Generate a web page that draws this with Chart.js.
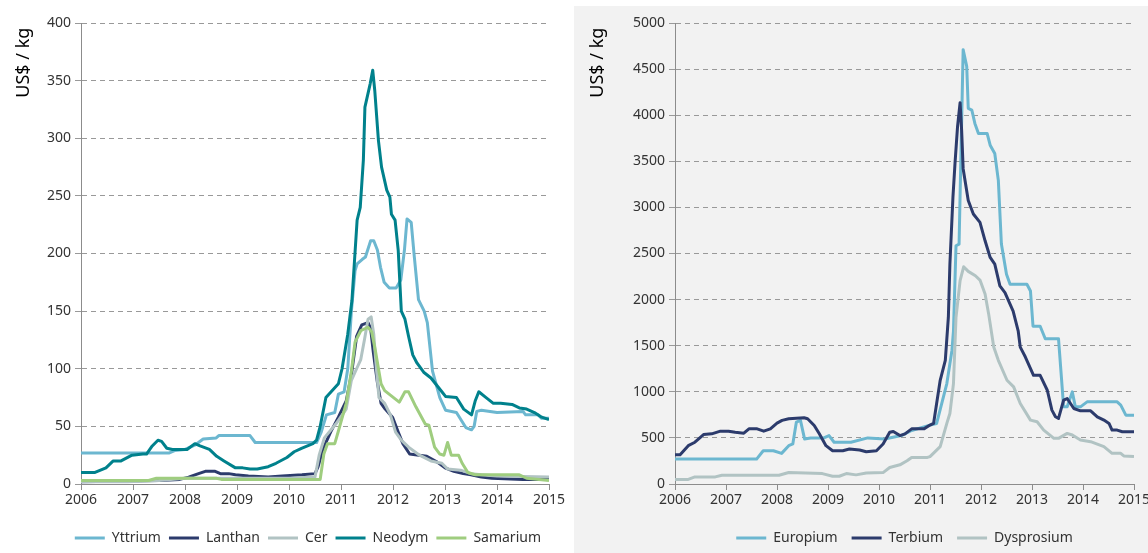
<!DOCTYPE html>
<html>
<head>
<meta charset="utf-8">
<script src="https://cdn.jsdelivr.net/npm/chart.js@4"></script>
<style>
  body { margin: 0; background: #fff; font-family: 'Noto Sans', sans-serif; }
  #left { position: absolute; left: 0; top: 0; width: 566px; height: 553px; }
  #right { position: absolute; left: 574px; top: 6px; width: 574px; height: 547px; background: #f2f2f2; }
</style>
</head>
<body>
<div id="left"><canvas id="light-chart" width="566" height="553"></canvas></div>
<div id="right"><canvas id="heavy-chart" width="574" height="547"></canvas></div>
<script>
// light rare earths (US$/kg)
var yttriumX = [2006, 2007.7, 2007.8, 2008.0, 2008.2, 2008.35, 2008.6, 2008.65, 2009.25, 2009.35, 2010.53, 2010.62, 2010.72, 2010.88, 2010.95, 2011.06, 2011.13, 2011.2, 2011.27, 2011.31, 2011.41, 2011.47, 2011.57, 2011.63, 2011.7, 2011.76, 2011.83, 2011.93, 2012.06, 2012.15, 2012.22, 2012.27, 2012.35, 2012.41, 2012.49, 2012.6, 2012.66, 2012.76, 2012.9, 2013.01, 2013.22, 2013.4, 2013.51, 2013.56, 2013.61, 2013.7, 2014.0, 2014.5, 2014.55, 2014.79, 2014.86, 2015];
var yttriumY = [27, 27, 29, 30, 34, 39, 40, 42, 42, 36, 36, 45, 60, 62, 78, 80, 100, 150, 185, 191, 195, 197, 211, 211, 203, 188, 175, 170, 170, 177, 203, 230, 227, 197, 160, 150, 140, 98, 75, 64, 62, 49, 47, 50, 63, 64, 62, 63, 60, 60, 57, 57];

var lanthanX = [2006, 2007.5, 2007.9, 2008.07, 2008.26, 2008.39, 2008.58, 2008.68, 2008.84, 2008.97, 2009.22, 2009.6, 2009.87, 2010.25, 2010.5, 2010.56, 2010.65, 2010.8, 2010.95, 2011.1, 2011.2, 2011.3, 2011.4, 2011.52, 2011.57, 2011.62, 2011.7, 2011.77, 2011.85, 2011.99, 2012.1, 2012.19, 2012.32, 2012.5, 2012.65, 2012.85, 2013.0, 2013.17, 2013.35, 2013.5, 2013.7, 2013.9, 2014.5, 2015];
var lanthanY = [2, 3, 4, 6, 9, 11, 11, 9, 9, 8, 7, 6, 7, 8, 9, 15, 30, 45, 58, 72, 95, 128, 138, 140, 135, 115, 88, 70, 65, 58, 45, 35, 26, 25, 24, 19, 14, 11, 9, 8, 6, 5, 4, 4];

var cerX = [2006, 2006.9, 2007.5, 2008, 2009, 2010, 2010.5, 2010.58, 2010.68, 2010.9, 2011.1, 2011.2, 2011.3, 2011.38, 2011.45, 2011.52, 2011.58, 2011.63, 2011.68, 2011.73, 2011.84, 2011.95, 2012.05, 2012.16, 2012.3, 2012.51, 2012.73, 2012.94, 2013.05, 2013.3, 2013.5, 2013.7, 2014, 2015];
var cerY = [2, 2, 3, 5, 5, 5, 6, 25, 40, 52, 65, 90, 100, 108, 125, 143, 145, 130, 100, 75, 70, 60, 45, 38, 32, 25, 20, 18, 13, 12, 9, 8, 7, 6];

var neodymX = [2006, 2006.27, 2006.48, 2006.62, 2006.77, 2006.98, 2007.19, 2007.26, 2007.37, 2007.48, 2007.55, 2007.65, 2007.76, 2007.9, 2008.04, 2008.19, 2008.29, 2008.47, 2008.61, 2008.75, 2008.97, 2009.11, 2009.25, 2009.39, 2009.6, 2009.75, 2009.96, 2010.1, 2010.24, 2010.46, 2010.53, 2010.6, 2010.71, 2010.81, 2010.95, 2011.02, 2011.13, 2011.21, 2011.31, 2011.37, 2011.43, 2011.46, 2011.56, 2011.61, 2011.65, 2011.72, 2011.78, 2011.88, 2011.94, 2011.97, 2012.04, 2012.1, 2012.16, 2012.23, 2012.3, 2012.38, 2012.46, 2012.59, 2012.73, 2012.94, 2013.01, 2013.22, 2013.36, 2013.51, 2013.58, 2013.65, 2013.79, 2013.93, 2014.07, 2014.29, 2014.43, 2014.57, 2014.72, 2014.86, 2015];
var neodymY = [10, 10, 14, 20, 20, 25, 26, 26, 33, 38, 37, 31, 30, 30, 30, 35, 33, 30, 24, 20, 14, 14, 13, 13, 15, 18, 23, 28, 31, 35, 38, 50, 75, 80, 87, 100, 130, 159, 229, 240, 281, 327, 347, 359, 341, 298, 275, 255, 249, 234, 229, 203, 150, 143, 128, 112, 105, 97, 92, 80, 76, 75, 65, 60, 72, 80, 75, 70, 70, 69, 66, 65, 62, 58, 56];

var samariumX = [2006, 2007.3, 2007.45, 2008.6, 2008.7, 2010.6, 2010.67, 2010.74, 2010.88, 2010.95, 2011.1, 2011.2, 2011.27, 2011.38, 2011.52, 2011.59, 2011.66, 2011.77, 2011.84, 2011.98, 2012.12, 2012.23, 2012.3, 2012.44, 2012.62, 2012.69, 2012.8, 2012.9, 2012.98, 2013.05, 2013.12, 2013.26, 2013.33, 2013.44, 2013.58, 2014.43, 2014.57, 2015];
var samariumY = [3, 3, 5, 5, 4, 4, 26, 35, 35, 46, 70, 98, 123, 133, 136, 132, 116, 87, 81, 76, 71, 80, 80, 67, 52, 51, 32, 26, 25, 36, 25, 25, 18, 10, 8, 8, 5, 3];

// heavy rare earths (US$/kg)
var europiumX = [2006, 2007.6, 2007.73, 2007.93, 2008.09, 2008.23, 2008.31, 2008.38, 2008.46, 2008.54, 2008.66, 2008.92, 2009.02, 2009.12, 2009.45, 2009.78, 2010.11, 2010.44, 2010.64, 2011.0, 2011.13, 2011.33, 2011.43, 2011.46, 2011.51, 2011.57, 2011.65, 2011.72, 2011.75, 2011.82, 2011.88, 2011.95, 2012.12, 2012.18, 2012.27, 2012.34, 2012.4, 2012.5, 2012.57, 2012.9, 2012.97, 2013.02, 2013.16, 2013.26, 2013.52, 2013.62, 2013.69, 2013.79, 2013.85, 2013.95, 2014.08, 2014.67, 2014.74, 2014.84, 2015];
var europiumY = [270, 270, 361, 361, 332, 416, 434, 672, 690, 489, 500, 500, 525, 453, 453, 500, 489, 525, 580, 639, 657, 1089, 1449, 1657, 2584, 2602, 4711, 4529, 4075, 4056, 3911, 3802, 3802, 3675, 3584, 3293, 2602, 2275, 2166, 2166, 2093, 1711, 1711, 1575, 1575, 837, 837, 999, 837, 837, 891, 891, 855, 747, 747];

var terbiumX = [2006, 2006.1, 2006.26, 2006.39, 2006.56, 2006.72, 2006.89, 2007.05, 2007.18, 2007.35, 2007.45, 2007.61, 2007.74, 2007.87, 2008.0, 2008.1, 2008.23, 2008.53, 2008.6, 2008.73, 2008.83, 2008.96, 2009.09, 2009.29, 2009.42, 2009.62, 2009.75, 2009.95, 2010.08, 2010.21, 2010.28, 2010.41, 2010.51, 2010.64, 2010.88, 2011.0, 2011.07, 2011.13, 2011.2, 2011.3, 2011.36, 2011.39, 2011.45, 2011.49, 2011.54, 2011.59, 2011.62, 2011.65, 2011.75, 2011.85, 2011.98, 2012.08, 2012.18, 2012.27, 2012.37, 2012.47, 2012.63, 2012.73, 2012.77, 2012.87, 2013.03, 2013.16, 2013.3, 2013.39, 2013.46, 2013.52, 2013.62, 2013.69, 2013.82, 2013.95, 2014.15, 2014.28, 2014.41, 2014.51, 2014.57, 2014.67, 2014.77, 2015];
var terbiumY = [317, 317, 416, 453, 536, 544, 573, 573, 562, 551, 598, 598, 573, 598, 660, 690, 708, 719, 708, 635, 544, 416, 361, 361, 379, 368, 350, 361, 434, 562, 570, 525, 544, 598, 598, 639, 657, 873, 1125, 1341, 1809, 2384, 3111, 3475, 3875, 4136, 3838, 3420, 3075, 2929, 2838, 2638, 2457, 2384, 2148, 2075, 1875, 1657, 1485, 1377, 1179, 1179, 1017, 801, 729, 711, 909, 927, 819, 794, 794, 729, 693, 657, 585, 585, 567, 567];

var dysprosiumX = [2006, 2006.26, 2006.39, 2006.79, 2006.92, 2008.04, 2008.23, 2008.89, 2009.09, 2009.22, 2009.36, 2009.55, 2009.75, 2010.08, 2010.21, 2010.41, 2010.55, 2010.64, 2010.95, 2011.0, 2011.2, 2011.33, 2011.39, 2011.46, 2011.51, 2011.59, 2011.66, 2011.75, 2011.89, 2011.98, 2012.08, 2012.15, 2012.25, 2012.34, 2012.51, 2012.64, 2012.77, 2012.97, 2013.1, 2013.23, 2013.43, 2013.52, 2013.69, 2013.79, 2013.95, 2014.15, 2014.41, 2014.57, 2014.74, 2014.8, 2015];
var dysprosiumY = [50, 50, 77, 77, 95, 95, 124, 113, 84, 84, 113, 99, 120, 124, 179, 208, 252, 288, 288, 297, 405, 657, 765, 1089, 1809, 2205, 2356, 2306, 2259, 2212, 2061, 1845, 1485, 1341, 1125, 1053, 873, 693, 675, 585, 495, 495, 549, 531, 477, 459, 405, 333, 333, 304, 297];

var yearMin = 2006, yearMax = 2015;
var lightTicks = { max: 400, step: 50 };
var heavyTicks = { max: 5000, step: 500 };

var LIGHT_BLUE = '#6cb7d0', NAVY = '#2c3b6c', GREY = '#b1c3c3', TEAL = '#00818c', GREEN = '#9fcd7f';

function toPoints(xs, ys) {
    return xs.map(function (x, i) { return { x: x, y: ys[i] }; });
}

// excel draws the last series on top, chart.js the first: reverse via order
function series(label, xs, ys, color, order) {
    return {
        label: label,
        data: toPoints(xs, ys),
        order: order,
        borderColor: color,
        backgroundColor: color,
        borderWidth: 3,
        pointRadius: 0,
        tension: 0,
        borderJoinStyle: 'round',
        fill: false
    };
}

// legend height = 24 + gap, so the x axis gets 47 - gap to keep the plot bottom fixed
function buildOptions(ticks, axisWidth, padding, legend) {
    return {
        responsive: false,
        animation: false,
        layout: { padding: padding },
        plugins: {
            tooltip: { enabled: false },
            legend: {
                position: 'bottom',
                fullSize: legend.fullSize,
                align: legend.align,
                labels: {
                    usePointStyle: true,
                    pointStyle: 'line',
                    pointStyleWidth: 30,
                    padding: legend.gap,
                    color: '#333',
                    font: { family: 'Noto Sans', size: 14 },
                    sort: function (a, b) { return a.datasetIndex - b.datasetIndex; }
                }
            }
        },
        scales: {
            x: {
                type: 'linear',
                min: yearMin,
                max: yearMax,
                afterFit: function (s) {
                    s.height = 47 - legend.gap;
                    s.paddingLeft = 0;
                    s.paddingRight = 0;
                },
                ticks: {
                    stepSize: 1,
                    color: '#333',
                    padding: 2,
                    font: { family: 'Noto Sans', size: 14 },
                    callback: function (v) { return String(v); }
                },
                grid: { drawOnChartArea: false, tickLength: 6, color: '#8c8c8c' },
                border: { color: '#8c8c8c' }
            },
            y: {
                min: 0,
                max: ticks.max,
                afterFit: function (s) { s.width = axisWidth; },
                ticks: {
                    stepSize: ticks.step,
                    color: '#333',
                    padding: 4,
                    font: { family: 'Noto Sans', size: 14 },
                    callback: function (v) { return String(v); }
                },
                grid: { color: '#999', tickLength: 6 },
                border: { color: '#8c8c8c', dash: [5, 4] },
                title: {
                    display: true,
                    text: 'US$ / kg ',
                    align: 'end',
                    color: '#000',
                    padding: { top: 13, bottom: 0 },
                    font: { family: 'Noto Sans', size: 18 }
                }
            }
        }
    };
}

function drawLightChart() {
    new Chart(document.getElementById('light-chart'), {
        type: 'line',
        data: {
            datasets: [
                series('Yttrium', yttriumX, yttriumY, LIGHT_BLUE, 5),
                series('Lanthan', lanthanX, lanthanY, NAVY, 4),
                series('Cer', cerX, cerY, GREY, 3),
                series('Neodym', neodymX, neodymY, TEAL, 2),
                series('Samarium', samariumX, samariumY, GREEN, 1)
            ]
        },
        options: buildOptions(lightTicks, 81, { left: 0, right: 17, top: 23, bottom: -2 },
            { fullSize: true, align: 'end', gap: 8 })
    });
}

function drawHeavyChart() {
    new Chart(document.getElementById('heavy-chart'), {
        type: 'line',
        data: {
            datasets: [
                series('Europium', europiumX, europiumY, LIGHT_BLUE, 3),
                series('Terbium', terbiumX, terbiumY, NAVY, 2),
                series('Dysprosium', dysprosiumX, dysprosiumY, GREY, 1)
            ]
        },
        options: buildOptions(heavyTicks, 101, { left: 0, right: 14, top: 17, bottom: -2 },
            { fullSize: false, align: 'center', gap: 14 })
    });
}

drawLightChart();
drawHeavyChart();
</script>
</body>
</html>
